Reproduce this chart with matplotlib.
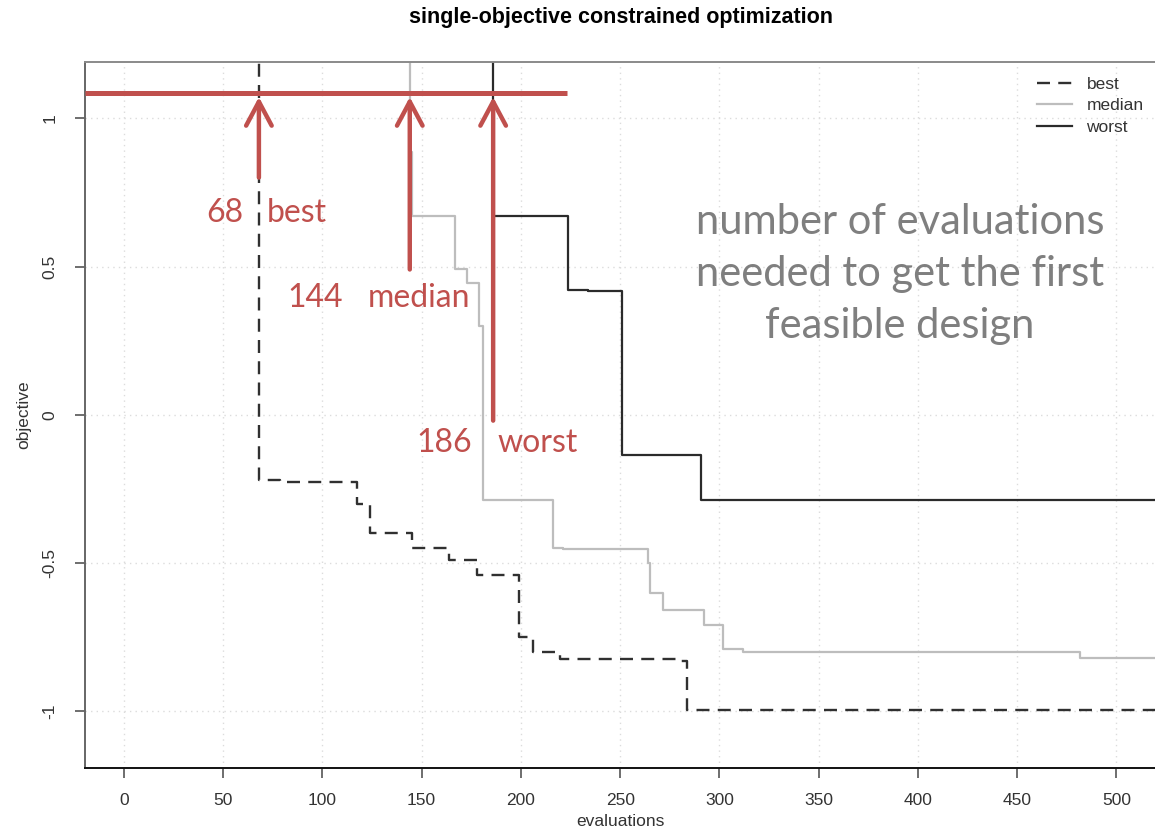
import matplotlib
matplotlib.use("Agg")
import matplotlib.pyplot as plt
import numpy as np

# --- run results (evaluation at which each run improves, objective after it) ---
# first entry sits above the axis range: the run is still infeasible there
best_x = [68, 68, 78.6, 117.4, 124, 145, 164, 178, 199, 206, 219.6, 278.6, 283.6, 530]
best_y = [1.4, -0.220, -0.226, -0.30, -0.40, -0.45, -0.49, -0.54, -0.75, -0.80, -0.825, -0.83, -0.997, -0.997]

median_x = [144, 144, 145, 167, 173, 179, 181, 216, 221, 264, 265, 271.5, 292, 302, 312, 481.6, 530]
median_y = [1.4, 0.885, 0.672, 0.49, 0.445, 0.30, -0.287, -0.45, -0.452, -0.50, -0.60, -0.66, -0.71, -0.79, -0.80, -0.82, -0.82]

worst_x = [186, 186, 223.7, 234, 251, 290.7, 530]
worst_y = [1.4, 0.672, 0.422, 0.419, -0.135, -0.287, -0.287]

# evaluations needed for the first feasible design
first_feasible = [68, 144, 186]
feasible_names = ["best", "median", "worst"]

x_ticks = np.arange(0, 501, 50)
y_ticks = [-1, -0.5, 0, 0.5, 1]
y_tick_labels = ["-1", "-0.5", "0", "0.5", "1"]

RED = "#c0504d"
TICK_GRAY = "#333333"

fig = plt.figure(figsize=(11.55, 8.35), dpi=100)
ax = fig.add_axes([85 / 1155, 67 / 835, 1 - 85 / 1155, (768 - 62) / 835])

# grid
for xv in x_ticks:
    ax.axvline(xv, color="#dcdcdc", lw=1, ls=(0, (1, 3)), zorder=0)
for yv in y_ticks:
    ax.axhline(yv, color="#dcdcdc", lw=1, ls=(0, (1, 3)), zorder=0)

ax.plot(best_x, best_y, drawstyle="steps-post", color="#303030", lw=1.7,
        ls=(0, (5.5, 3.5)), label="best")
ax.plot(median_x, median_y, drawstyle="steps-post", color="#bdbdbd", lw=1.6,
        label="median")
ax.plot(worst_x, worst_y, drawstyle="steps-post", color="#2b2b2b", lw=1.6,
        label="worst")

ax.set_xlim(-19.6, 519.4)
ax.set_ylim(-1.192, 1.19)

# red marker line and arrows
red_level = 1.084
ax.plot([-19.6, 223], [red_level, red_level], color=RED, lw=3.6,
        solid_capstyle="butt", zorder=5)
arrow_start = [0.80, 0.49, -0.02]
for xv, y0 in zip(first_feasible, arrow_start):
    ax.annotate("", xy=(xv, red_level - 0.012), xytext=(xv, y0),
                arrowprops=dict(arrowstyle="->,head_length=0.75,head_width=0.4",
                                color=RED, lw=3.2, shrinkA=0, shrinkB=0,
                                mutation_scale=23),
                zorder=6)

lab_font = dict(family=["Lato", "DejaVu Sans"], fontsize=23, color=RED)
num_pos = [(60, 0.68), (110.3, 0.395), (175.3, -0.095)]
name_pos = [(72, 0.68), (123, 0.395), (188.4, -0.095)]
for n, nm, (nx, ny), (mx, my) in zip(first_feasible, feasible_names, num_pos, name_pos):
    ax.text(nx, ny, str(n), ha="right", va="center", zorder=7, **lab_font)
    ax.text(mx, my, nm, ha="left", va="center", zorder=7, **lab_font)

ax.text(391, 0.475, "number of evaluations\nneeded to get the first\nfeasible design",
        ha="center", va="center", color="#7f7f7f", fontsize=30,
        family=["Lato", "DejaVu Sans"], linespacing=1.45)

# axes styling in the R base-graphics look
ax.spines["right"].set_visible(False)
ax.spines["top"].set_color("#8a8a8a")
ax.spines["left"].set_color("#666666")
ax.spines["bottom"].set_color("#111111")
for s in ax.spines.values():
    s.set_linewidth(1.4)

ax.set_xticks(x_ticks)
ax.set_xticklabels([str(v) for v in x_ticks])
ax.set_yticks(y_ticks)
ax.set_yticklabels(y_tick_labels, rotation=90, va="center")
ax.tick_params(axis="both", direction="out", length=7, width=1.2,
               colors="#555555", labelcolor=TICK_GRAY, labelsize=12.5,
               labelfontfamily="Liberation Sans")
ax.tick_params(axis="x", pad=11)
ax.tick_params(axis="y", pad=13)

ax.set_xlabel("evaluations", fontsize=12.5, family="Liberation Sans",
              color=TICK_GRAY, labelpad=4)
ax.set_ylabel("objective", fontsize=12.5, family="Liberation Sans",
              color=TICK_GRAY, labelpad=8)

fig.suptitle("single-objective constrained optimization", x=621 / 1155, y=1 - 18 / 835,
             va="center", fontsize=15.5, fontweight="bold", family="Liberation Sans")

leg = ax.legend(loc="upper left", bbox_to_anchor=(1037 / 1155, 1 - 77 / 835),
                bbox_transform=fig.transFigure, frameon=False,
                prop={"family": "Liberation Sans", "size": 12.5},
                handlelength=2.0, handletextpad=0.85, labelspacing=0.35,
                borderpad=0, borderaxespad=0)
for t in leg.get_texts():
    t.set_color(TICK_GRAY)

fig.savefig("out.png", dpi=100)
